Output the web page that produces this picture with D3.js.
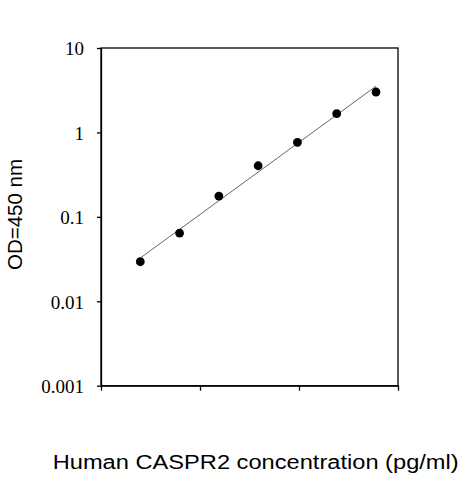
<!DOCTYPE html>
<html>
<head>
<meta charset="utf-8">
<script src="https://cdn.jsdelivr.net/npm/d3@7"></script>
<style>
  html, body { margin: 0; padding: 0; background: #fff; }
  svg { display: block; }
</style>
</head>
<body>
<svg id="chart" width="463" height="480"></svg>
<script>
// ---- data ----
const standards = [1, 2, 3, 4, 5, 6, 7];           // standard index (dilution series)
const odValues  = [0.0294, 0.0643, 0.176, 0.403, 0.763, 1.667, 3.01];
const yTickValues = [0.001, 0.01, 0.1, 1, 10];
const yTickLabels = ["0.001", "0.01", "0.1", "1", "10"];
const xTickValues = [0, 2.52, 5.04, 7.56];
const xLabel = "Human CASPR2 concentration (pg/ml)";
const yLabel = "OD=450 nm";

// ---- layout ----
const svg = d3.select("#chart");
const plotL = 101, plotR = 398, plotT = 48, plotB = 385.7;

const x = d3.scaleLinear().domain([0, 7.56]).range([plotL, plotR]);
const y = d3.scaleLog().domain([0.001, 10]).range([plotB, plotT]);

// frame (top/right)
svg.append("rect")
  .attr("x", plotL).attr("y", plotT)
  .attr("width", plotR - plotL).attr("height", plotB - plotT)
  .attr("fill", "none").attr("stroke", "#000").attr("stroke-width", 1.3);

// y axis
const yAxis = d3.axisLeft(y)
  .tickValues(yTickValues)
  .tickFormat((d, i) => yTickLabels[i])
  .tickSizeInner(4).tickSizeOuter(0).tickPadding(13);
const gy = svg.append("g").attr("transform", `translate(${plotL},0)`).call(yAxis);
gy.select(".domain").attr("stroke", "#000").attr("stroke-width", 1.3);
gy.selectAll(".tick line").attr("stroke", "#000").attr("stroke-width", 1.3);
gy.selectAll(".tick text")
  .attr("font-family", "'Liberation Serif', 'Times New Roman', serif")
  .attr("font-weight", "normal")
  .attr("font-size", 19).attr("fill", "#000").attr("dy", "0.36em");

// x axis
const xAxis = d3.axisBottom(x)
  .tickValues(xTickValues).tickFormat("")
  .tickSizeInner(5).tickSizeOuter(0);
const gx = svg.append("g").attr("transform", `translate(0,${plotB})`).call(xAxis);
gx.select(".domain").attr("stroke", "#000").attr("stroke-width", 1.3);
gx.selectAll(".tick line").attr("stroke", "#000").attr("stroke-width", 1.3);

// least-squares fit of log10(OD) vs standard index
const lx = standards, ly = odValues.map(v => Math.log10(v));
const mx = d3.mean(lx), my = d3.mean(ly);
const slope = d3.sum(lx, (v, i) => (v - mx) * (ly[i] - my)) / d3.sum(lx, v => (v - mx) ** 2);
const intercept = my - slope * mx;
const fitPts = [d3.min(lx), d3.max(lx)].map(v => [v, Math.pow(10, intercept + slope * v)]);

svg.append("path")
  .datum(fitPts)
  .attr("fill", "none").attr("stroke", "#666").attr("stroke-width", 1)
  .attr("d", d3.line().x(d => x(d[0])).y(d => y(d[1])));

// points
svg.append("g").selectAll("circle")
  .data(standards.map((s, i) => [s, odValues[i]]))
  .join("circle")
  .attr("cx", d => x(d[0])).attr("cy", d => y(d[1]))
  .attr("r", 4.4).attr("fill", "#000");

// axis titles
svg.append("text")
  .attr("x", 52.7).attr("y", 469)
  .attr("font-family", "'Liberation Sans', Arial, sans-serif")
  .attr("font-size", 20).attr("fill", "#000")
  .attr("textLength", 406).attr("lengthAdjust", "spacingAndGlyphs")
  .text(xLabel);

svg.append("text")
  .attr("transform", `translate(21.5,214.5) rotate(-90)`)
  .attr("text-anchor", "middle")
  .attr("font-family", "'Liberation Sans', Arial, sans-serif")
  .attr("font-size", 20.5).attr("fill", "#000")
  .text(yLabel);
</script>
</body>
</html>
